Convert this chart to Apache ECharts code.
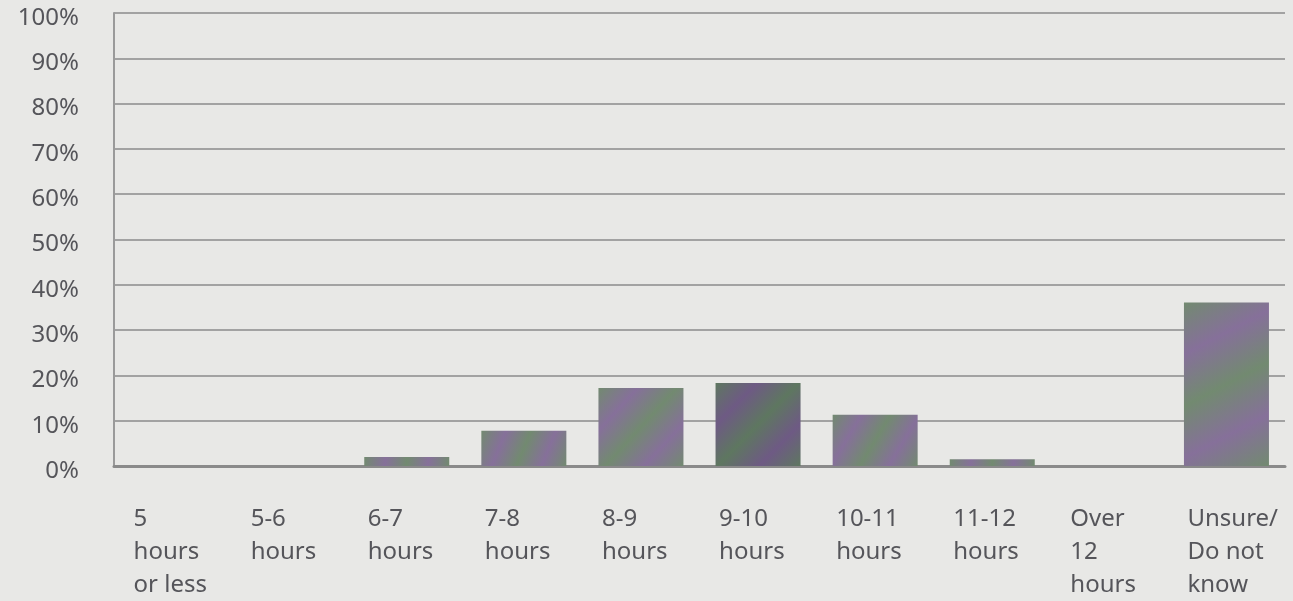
<!DOCTYPE html>
<html>
<head>
<meta charset="utf-8">
<script src="https://cdn.jsdelivr.net/npm/echarts@6/dist/echarts.min.js"></script>
<style>
html,body{margin:0;padding:0;background:#e8e8e6;}
#chart{width:1293px;height:601px;}
</style>
</head>
<body>
<div id="chart"></div>
<script>
const categories = ['5\nhours\nor less','5-6\nhours','6-7\nhours','7-8\nhours','8-9\nhours','9-10\nhours','10-11\nhours','11-12\nhours','Over\n12\nhours','Unsure/\nDo not\nknow'];
const values = [0, 0, 2, 7.8, 17.2, 18.3, 11.3, 1.5, 0, 36.1];
const yTicks = [0, 10, 20, 30, 40, 50, 60, 70, 80, 90, 100];

function stripes(g, p) {
  return new echarts.graphic.LinearGradient(0, 0, 1, 1, [
    {offset: 0, color: g},
    {offset: 0.25, color: p},
    {offset: 0.5, color: g},
    {offset: 0.75, color: p},
    {offset: 1, color: g}
  ]);
}
const fillNormal = stripes('#728a70', '#86709a');
const fillDark = stripes('#5e7760', '#6e5a84');

const chart = echarts.init(document.getElementById('chart'));
chart.setOption({
  backgroundColor: '#e8e8e6',
  animation: false,
  grid: {left: 114, right: 8, top: 13, bottom: 135, containLabel: false},
  xAxis: {
    type: 'category',
    data: categories,
    axisLine: {show: true, lineStyle: {color: '#8a8a8a', width: 3}},
    axisTick: {show: false},
    axisLabel: {
      interval: 0,
      margin: 37,
      align: 'center',
      formatter: function (v) {
        return v.split('\n').map(function (s) { return '{a|' + s + '}'; }).join('\n');
      },
      rich: {
        a: {width: 78, align: 'left', fontFamily: 'Noto Sans', fontSize: 24, lineHeight: 33, color: '#55555a'}
      }
    }
  },
  yAxis: {
    type: 'value',
    min: 0,
    max: 100,
    interval: 10,
    axisLine: {show: true, lineStyle: {color: '#9a9a9a', width: 2}},
    axisTick: {show: false},
    splitLine: {show: true, lineStyle: {color: '#a2a2a2', width: 2}},
    axisLabel: {
      margin: 35,
      formatter: function (v) { return yTicks.indexOf(v) >= 0 ? '{p|' + v + '%}' : ''; },
      rich: {
        p: {fontFamily: 'Noto Sans', fontSize: 24, color: '#55555a', padding: [10, 0, 0, 0]}
      }
    }
  },
  series: [{
    type: 'bar',
    data: values.map(function (v, i) {
      return {value: v, itemStyle: {color: i === 5 ? fillDark : fillNormal}};
    }),
    barWidth: 85,
    itemStyle: {borderWidth: 0}
  }]
});
</script>
</body>
</html>
